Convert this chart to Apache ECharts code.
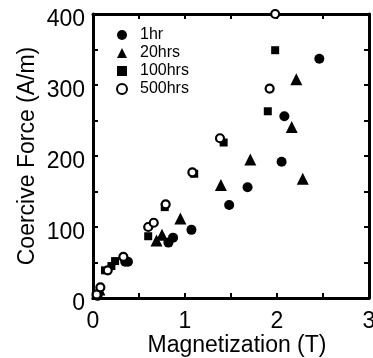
<!DOCTYPE html>
<html><head><meta charset="utf-8">
<script src="https://cdn.jsdelivr.net/npm/echarts@6/dist/echarts.min.js"></script>
<style>html,body{margin:0;padding:0;background:#fff}#c{width:373px;height:358px}</style>
</head><body><div id="c"></div>
<script>
var seriesNames = ['1hr', '20hrs', '100hrs', '500hrs'];
var hr1 = [[0.05,3],[0.35,51],[0.38,51],[0.82,78],[0.87,85],[1.07,96],[1.48,131],[1.68,156],[2.05,192],[2.08,256],[2.46,337]];
var hr20 = [[0.07,12],[0.69,81],[0.75,89],[0.95,112],[1.39,159],[1.71,195],[2.28,168],[2.16,241],[2.21,308]];
var hr100 = [[0.03,3],[0.13,39],[0.20,45],[0.24,52],[0.60,87],[0.78,128],[1.10,175],[1.42,219],[1.90,263],[1.98,349]];
var hr500 = [[0.04,5],[0.08,15],[0.16,39],[0.33,58],[0.60,100],[0.66,106],[0.79,132],[1.08,177],[1.38,225],[1.92,295],[1.98,400]];
var xTicks = [0, 1, 2, 3];
var yTicks = [0, 100, 200, 300, 400];

var FONT = 'Liberation Sans, Arial, Helvetica, sans-serif';
var chart = echarts.init(document.getElementById('c'), null, {renderer:'canvas'});
var line = {show:true, onZero:false, lineStyle:{color:'#000', width:3}};
var tick = {show:true, inside:true, length:5, lineStyle:{color:'#000', width:2}};
function mk(name, data, symbol, size, fill){
  return {name:name, type:'scatter', data:data, symbol:symbol, symbolSize:size,
    itemStyle:{color:fill, borderColor:'#000', borderWidth: fill==='#fff'?2.2:0, opacity:1},
    xAxisIndex:0, yAxisIndex:0, z:3};
}
chart.setOption({
  animation:false,
  backgroundColor:'#fff',
  grid:{left:93, right:4, top:14, bottom:60, containLabel:false, outerBoundsMode:'none'},
  legend:{orient:'vertical', left:111, top:22, itemWidth:10, itemHeight:10, itemGap:2,
    data:seriesNames,
    textStyle:{fontFamily:FONT, fontSize:16, color:'#000', lineHeight:16, padding:[0,0,0,8]}},
  xAxis:[
    {type:'value', min:0, max:3, interval:0.5, position:'bottom',
     axisLine:line, axisTick:tick, splitLine:{show:false},
     name:'Magnetization (T)', nameLocation:'middle', nameGap:36, nameMoveOverlap:false,
     nameTextStyle:{fontFamily:FONT, fontSize:23, color:'#000', padding:[0,0,0,12]},
     axisLabel:{show:true, margin:12, fontFamily:FONT, fontSize:23, color:'#000',
       formatter:function(v){return xTicks.indexOf(v)>=0 ? String(v) : '';}}},
    {type:'value', min:0, max:3, interval:0.5, position:'top',
     axisLine:line, axisTick:tick, splitLine:{show:false}, axisLabel:{show:false}}
  ],
  yAxis:[
    {type:'value', min:0, max:400, interval:50, position:'left',
     axisLine:line, axisTick:tick, splitLine:{show:false},
     name:'Coercive Force (A/m)', nameLocation:'middle', nameGap:54, nameMoveOverlap:false,
     nameTextStyle:{fontFamily:FONT, fontSize:23, color:'#000'},
     axisLabel:{show:true, margin:8, fontFamily:FONT, fontSize:23, color:'#000', lineHeight:12,
       formatter:function(v){return yTicks.indexOf(v)>=0 ? '\n' + String(v) : '';}}},
    {type:'value', min:0, max:400, interval:50, position:'right',
     axisLine:line, axisTick:tick, splitLine:{show:false}, axisLabel:{show:false}}
  ],
  series:[
    mk('1hr', hr1, 'circle', 10, '#000'),
    mk('20hrs', hr20, 'triangle', 12, '#000'),
    mk('100hrs', hr100, 'rect', 8, '#000'),
    mk('500hrs', hr500, 'circle', 8, '#fff')
  ]
});
</script></body></html>
